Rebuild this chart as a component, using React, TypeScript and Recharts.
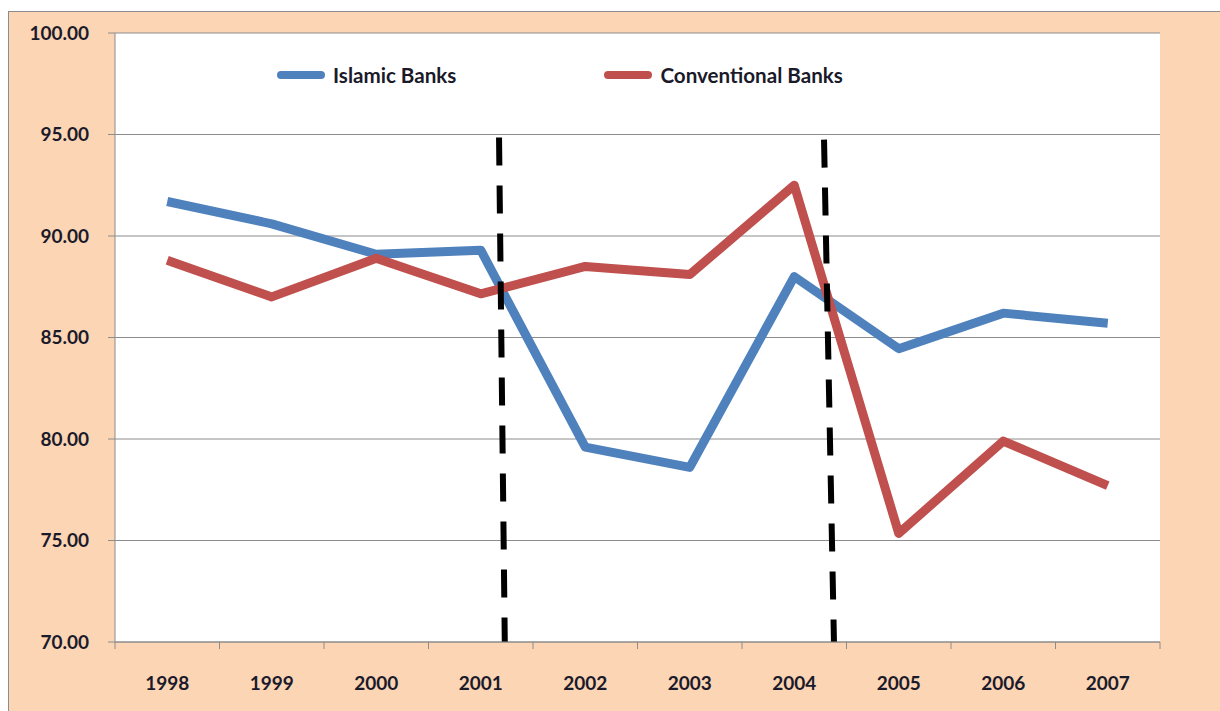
import React from "react";
import {
  LineChart,
  Line,
  XAxis,
  YAxis,
  CartesianGrid,
  ReferenceLine,
  Legend,
} from "recharts";

const years = ["1998", "1999", "2000", "2001", "2002", "2003", "2004", "2005", "2006", "2007"];
const islamicBanks = [91.7, 90.6, 89.1, 89.3, 79.6, 78.6, 88.0, 84.45, 86.2, 85.7];
const conventionalBanks = [88.8, 87.0, 88.9, 87.15, 88.5, 88.1, 92.5, 75.35, 79.9, 77.7];
const yTicks = [70, 75, 80, 85, 90, 95, 100];
const boundaryTicks = [0, 1, 2, 3, 4, 5, 6, 7, 8, 9, 10];
const centerTicks = years.map((_, i) => i + 0.5);
// dashed break markers: [x, y] in (category-index, value) space
const breakLine1 = [
  { x: 3.675, y: 94.85 },
  { x: 3.73, y: 70 },
];
const breakLine2 = [
  { x: 6.785, y: 94.75 },
  { x: 6.88, y: 70 },
];

const seriesInfo = [
  { key: "islamic", name: "Islamic Banks", color: "#4F81BD" },
  { key: "conventional", name: "Conventional Banks", color: "#C0504D" },
];

const data = years.map((y, i) => ({
  year: y,
  x: i + 0.5,
  islamic: islamicBanks[i],
  conventional: conventionalBanks[i],
}));

const FONT = "Lato, 'Open Sans', sans-serif";
const TEXT = "#1a1a2a";
const GRAY = "#8c8c8c";

const renderLegend = () => (
  <div style={{ display: "flex", alignItems: "center", fontFamily: FONT }}>
    {seriesInfo.map((s, i) => (
      <div
        key={s.key}
        style={{ display: "flex", alignItems: "center", marginRight: i === 0 ? 148 : 0 }}
      >
        <div
          style={{
            width: 48,
            height: 8,
            borderRadius: 4,
            background: s.color,
            marginRight: 8,
          }}
        />
        <span style={{ fontSize: 20.6, fontWeight: 700, color: TEXT, whiteSpace: "nowrap" }}>
          {s.name}
        </span>
      </div>
    ))}
  </div>
);

export default function App() {
  return (
    <div
      style={{
        position: "fixed",
        left: 8,
        top: 11,
        width: 1212,
        height: 700,
        background: "#FCD5B5",
        borderLeft: `1px solid ${GRAY}`,
        borderTop: `1px solid ${GRAY}`,
        boxSizing: "border-box",
      }}
    >
      <LineChart
        width={1211}
        height={699}
        data={data}
        margin={{ top: 21, right: 60, left: 26, bottom: 28 }}
      >
        <CartesianGrid horizontal vertical={false} stroke={GRAY} fill="#ffffff" />
        <XAxis
          dataKey="x"
          type="number"
          domain={[0, 10]}
          allowDataOverflow
          ticks={boundaryTicks}
          interval={0}
          height={8}
          axisLine={{ stroke: GRAY }}
          tickLine={{ stroke: GRAY }}
          tickSize={7}
          tickFormatter={() => ""}
        />
        <XAxis
          xAxisId="labels"
          dataKey="x"
          type="number"
          domain={[0, 10]}
          allowDataOverflow
          ticks={centerTicks}
          interval={0}
          height={33}
          axisLine={false}
          tickLine={false}
          tickMargin={21}
          tickFormatter={(v: number) => years[Math.floor(v)]}
          tick={{ fontFamily: FONT, fontSize: 19, fontWeight: 700, fill: TEXT }}
        />
        <YAxis
          domain={[70, 100]}
          ticks={yTicks}
          width={80}
          axisLine={{ stroke: GRAY }}
          tickLine={{ stroke: GRAY }}
          tickSize={7}
          tickMargin={19}
          tickFormatter={(v: number) => v.toFixed(2)}
          tick={{ fontFamily: FONT, fontSize: 19, fontWeight: 700, fill: TEXT }}
        />
        <Legend
          verticalAlign="middle"
          layout="horizontal"
          content={renderLegend}
          wrapperStyle={{ position: "absolute", left: 268, top: 51, width: "auto", height: "auto" }}
        />
        <Line
          dataKey="islamic"
          name="Islamic Banks"
          stroke="#4F81BD"
          strokeWidth={9}
          dot={false}
          strokeLinejoin="round"
          isAnimationActive={false}
        />
        <Line
          dataKey="conventional"
          name="Conventional Banks"
          stroke="#C0504D"
          strokeWidth={9}
          dot={false}
          strokeLinejoin="round"
          isAnimationActive={false}
        />
        <ReferenceLine
          segment={breakLine1}
          stroke="#000"
          strokeWidth={6}
          strokeDasharray="28 20"
          ifOverflow="visible"
        />
        <ReferenceLine
          segment={breakLine2}
          stroke="#000"
          strokeWidth={6}
          strokeDasharray="28 20"
          ifOverflow="visible"
        />
      </LineChart>
    </div>
  );
}
